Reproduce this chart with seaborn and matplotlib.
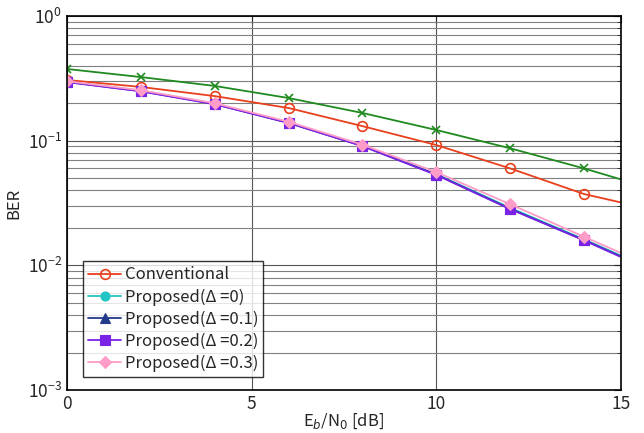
import numpy as np
import pandas as pd
import seaborn as sns
import matplotlib.pyplot as plt
from matplotlib.ticker import LogLocator, NullFormatter

# Eb/N0 (dB) -- markers at even points, curve ends at 15
snr = [0, 2, 4, 6, 8, 10, 12, 14, 15]

ber_ref = [0.376, 0.324, 0.275, 0.220, 0.167, 0.122, 0.087, 0.060, 0.049]
ber_conv = [0.307, 0.270, 0.228, 0.183, 0.131, 0.0924, 0.060, 0.0374, 0.032]
ber_p0 = [0.298, 0.252, 0.198, 0.140, 0.0915, 0.0540, 0.0290, 0.0162, 0.0120]
ber_p1 = [0.296, 0.250, 0.197, 0.139, 0.0910, 0.0535, 0.0285, 0.0160, 0.0118]
ber_p2 = [0.295, 0.249, 0.196, 0.139, 0.0905, 0.0532, 0.0283, 0.0159, 0.0117]
ber_p3 = [0.300, 0.254, 0.200, 0.142, 0.0930, 0.0560, 0.0310, 0.0170, 0.0126]

labels = [None, 'Conventional', 'Proposed(Δ =0)', 'Proposed(Δ =0.1)',
          'Proposed(Δ =0.2)', 'Proposed(Δ =0.3)']
series = [ber_ref, ber_conv, ber_p0, ber_p1, ber_p2, ber_p3]
colors = ['#1f8a1f', '#e8401c', '#22c4c4', '#223a8a', '#7a22e6', '#ff9cc8']
markers = ['x', 'o', 'o', '^', 's', 'D']

sns.set_style('white')
plt.rcParams['font.family'] = ['Noto Sans CJK JP', 'DejaVu Sans']

fig = plt.figure(figsize=(6.44, 4.33), dpi=100)
ax = fig.add_axes([0.104, 0.099, 0.860, 0.864])

for y, lab, c, m in zip(series, labels, colors, markers):
    df = pd.DataFrame({'snr': snr, 'ber': y})
    if lab == 'Conventional':
        kw = dict(markerfacecolor='none', markeredgewidth=1.2, markersize=7)
    elif m == 'x':
        kw = dict(markersize=6, markeredgewidth=1.2)
    else:
        kw = dict(markersize=6.5, markeredgewidth=0.8)
    sns.lineplot(data=df, x='snr', y='ber', ax=ax, color=c, marker=m,
                 markeredgecolor=c, linewidth=1.3, markevery=list(range(8)),
                 label=lab if lab else '_nolegend_', **kw)

ax.set_yscale('log')
ax.set_xlim(0, 15)
ax.set_ylim(1e-3, 1)
ax.set_xticks([0, 5, 10, 15])
ax.yaxis.set_major_locator(LogLocator(base=10, numticks=10))
ax.yaxis.set_minor_locator(LogLocator(base=10, subs=np.arange(2, 10), numticks=20))
ax.yaxis.set_minor_formatter(NullFormatter())

ax.grid(True, which='major', axis='both', color='#555555', linewidth=0.8)
ax.grid(True, which='minor', axis='y', color='#808080', linewidth=0.8)
ax.tick_params(which='both', direction='in', top=True, right=True, labelsize=12.5)
ax.tick_params(which='major', length=5)
ax.tick_params(which='minor', length=3)
for s in ax.spines.values():
    s.set_color('black')
    s.set_linewidth(1.2)

ax.set_xlabel(r'E$_b$/N$_0$ [dB]', fontsize=12, labelpad=-1)
ax.set_ylabel('BER', fontsize=12)

leg = ax.legend(loc='lower left', bbox_to_anchor=(0.014, 0.012), fontsize=12,
                frameon=True, fancybox=False, edgecolor='black',
                handlelength=2.0, handletextpad=0.2, borderpad=0.3, labelspacing=0.3)
leg.get_frame().set_linewidth(1.0)

fig.savefig('out.png', dpi=100)
